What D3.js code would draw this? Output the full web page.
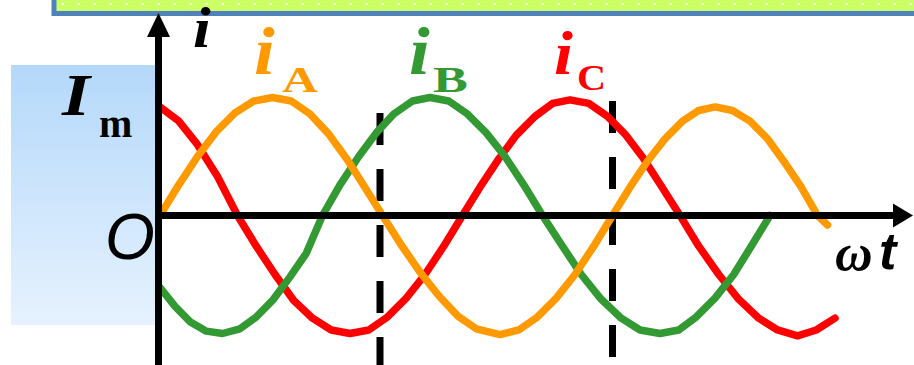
<!DOCTYPE html>
<html>
<head>
<meta charset="utf-8">
<script src="https://cdn.jsdelivr.net/npm/d3@7"></script>
<style>
  html, body { margin: 0; padding: 0; background: #fff; }
  svg { display: block; }
</style>
</head>
<body>
<div id="chart"></div>
<script>
// angle (degrees of wt) and current values, in units of Im
var angA = [0, 15, 30, 45, 60, 75, 90, 105, 120, 135, 150, 165, 178, 193, 208, 223, 238, 253, 272,
  287, 302, 317, 332, 347, 362, 376, 390, 404, 418, 431, 444, 458, 472, 486, 499, 513, 526, 534];
var valA = [0, 0.26, 0.5, 0.71, 0.87, 0.97, 1.0, 0.97, 0.86, 0.69, 0.47, 0.22, 0, -0.25, -0.48, -0.68, -0.85, -0.96, -1.01,
  -0.97, -0.86, -0.7, -0.5, -0.26, 0, 0.24, 0.46, 0.65, 0.8, 0.89, 0.92, 0.89, 0.8, 0.65, 0.46, 0.24, 0, -0.08];

var angB = [0, 12, 24, 37, 50, 64, 77, 90, 104, 117, 130, 144, 159, 173, 187, 202, 216,
  231, 246, 261, 276, 291, 306, 322, 337, 353, 369, 384, 400, 415, 429, 444, 459, 473, 488];
var valB = [-0.61, -0.77, -0.9, -0.98, -1.0, -0.96, -0.86, -0.72, -0.52, -0.32, 0, 0.26, 0.5, 0.7, 0.86, 0.97, 1.0,
  0.97, 0.86, 0.7, 0.5, 0.26, 0, -0.26, -0.5, -0.71, -0.87, -0.97, -1.0, -0.97, -0.86, -0.7, -0.5, -0.26, 0];

var angC = [0, 15, 30, 46, 62, 77, 92, 107, 122, 137, 152, 167, 182, 197, 212, 227, 242, 256, 271, 285, 300, 314, 328,
  343, 358, 372, 387, 401, 416, 431, 447, 463, 479, 494, 510, 525, 540];
var valC = [0.92, 0.8, 0.6, 0.33, 0, -0.26, -0.5, -0.72, -0.87, -0.97, -1.0, -0.97, -0.86, -0.7, -0.5, -0.26, 0, 0.24, 0.48, 0.68, 0.84, 0.95, 0.98,
  0.95, 0.84, 0.69, 0.48, 0.25, 0, -0.26, -0.5, -0.71, -0.87, -0.97, -1.02, -0.97, -0.87];

var dashAngles = [176, 362];

var width = 914;
var height = 365;
var orange = "#ff9900";
var green = "#339933";
var red = "#ff0000";

var series = [
  { name: "C", color: red, values: angC.map((a, i) => ({ a: a, v: valC[i] })) },
  { name: "B", color: green, values: angB.map((a, i) => ({ a: a, v: valB[i] })) },
  { name: "A", color: orange, values: angA.map((a, i) => ({ a: a, v: valA[i] })) },
];

/* Scales */
var x = d3.scaleLinear().domain([0, 540]).range([160, 835]);
var y = d3.scaleLinear().domain([-1, 1]).range([333.5, 97.5]);

var svg = d3.select("#chart").append("svg")
  .attr("width", width)
  .attr("height", height);

var defs = svg.append("defs");

var dots = defs.append("pattern")
  .attr("id", "dots")
  .attr("patternUnits", "userSpaceOnUse")
  .attr("x", 62).attr("y", 0)
  .attr("width", 16).attr("height", 16);
dots.append("rect").attr("width", 16).attr("height", 16).attr("fill", "#ccff66");
dots.append("rect").attr("x", 0).attr("y", 3).attr("width", 2).attr("height", 2).attr("fill", "#fff");

var grad = defs.append("linearGradient")
  .attr("id", "blueFade")
  .attr("x1", 0).attr("y1", 0).attr("x2", 0).attr("y2", 1);
grad.append("stop").attr("offset", "0%").attr("stop-color", "#b4d8fa");
grad.append("stop").attr("offset", "100%").attr("stop-color", "#e6f2fe");

/* top banner */
svg.append("rect")
  .attr("x", 54).attr("y", -20)
  .attr("width", 900).attr("height", 33.5)
  .attr("fill", "url(#dots)")
  .attr("stroke", "#4f81bd")
  .attr("stroke-width", 5);

/* blue panel on the left */
svg.append("rect")
  .attr("x", 11).attr("y", 65)
  .attr("width", 146).attr("height", 260)
  .attr("fill", "url(#blueFade)");

/* dashed markers */
svg.append("g")
  .selectAll("line")
  .data(dashAngles)
  .enter()
  .append("line")
  .attr("x1", (d) => x(d))
  .attr("x2", (d) => x(d))
  .attr("y1", (d, i) => (i === 0 ? 113 : 101))
  .attr("y2", 365)
  .attr("stroke", "#000")
  .attr("stroke-width", 7)
  .attr("stroke-dasharray", "32 24");

/* curves */
var line = d3.line()
  .x((d) => x(d.a))
  .y((d) => y(d.v));

svg.append("g")
  .selectAll("path")
  .data(series)
  .enter()
  .append("path")
  .attr("d", (d) => line(d.values))
  .attr("fill", "none")
  .attr("stroke", (d) => d.color)
  .attr("stroke-width", 7.5)
  .attr("stroke-linejoin", "round")
  .attr("stroke-linecap", "round");

/* axes */
var axes = svg.append("g");
axes.append("line")
  .attr("x1", 155).attr("x2", 895)
  .attr("y1", y(0)).attr("y2", y(0))
  .attr("stroke", "#000").attr("stroke-width", 7);
axes.append("path")
  .attr("d", `M913,${y(0)} L893,${y(0) - 12} L893,${y(0) + 12} Z`)
  .attr("fill", "#000");
axes.append("line")
  .attr("x1", x(0) - 1.5).attr("x2", x(0) - 1.5)
  .attr("y1", 35).attr("y2", 365)
  .attr("stroke", "#000").attr("stroke-width", 7);
axes.append("path")
  .attr("d", `M${x(0) - 1.5},13 L${x(0) - 13},37 L${x(0) + 10},37 Z`)
  .attr("fill", "#000");

/* labels */
var serif = "'Liberation Serif', 'Times New Roman', serif";
var sans = "'Liberation Sans', Arial, sans-serif";

function label(txt, lx, ly, size, color, family, italic, sx) {
  svg.append("text")
    .attr("transform", `translate(${lx},${ly}) scale(${sx || 1},1)`)
    .attr("font-family", family)
    .attr("font-size", size)
    .attr("font-weight", "bold")
    .attr("font-style", italic ? "italic" : "normal")
    .attr("fill", color)
    .text(txt);
}

label("i", 193, 47, 58, "#000", serif, true, 1.1);
label("i", 254, 74, 68, orange, serif, true, 1.1);
label("A", 282, 92, 36, orange, serif, false, 1.38);
label("i", 409, 74, 68, green, serif, true, 1.1);
label("B", 433, 92, 36, green, serif, false, 1.45);
label("i", 554, 74, 62, red, serif, true, 1.1);
label("C", 577, 90, 36, red, serif, false, 1.12);
label("I", 62, 115, 60, "#000", serif, true, 1.2);
label("m", 99, 137, 40, "#000", serif, false, 1);
label("ω", 835, 270, 52, "#000", serif, true, 1);
label("t", 879, 269, 52, "#000", sans, true, 1);

svg.append("text")
  .attr("x", 105).attr("y", 259)
  .attr("font-family", sans)
  .attr("font-size", 64)
  .attr("font-style", "italic")
  .attr("fill", "#000")
  .text("O");
</script>
</body>
</html>
